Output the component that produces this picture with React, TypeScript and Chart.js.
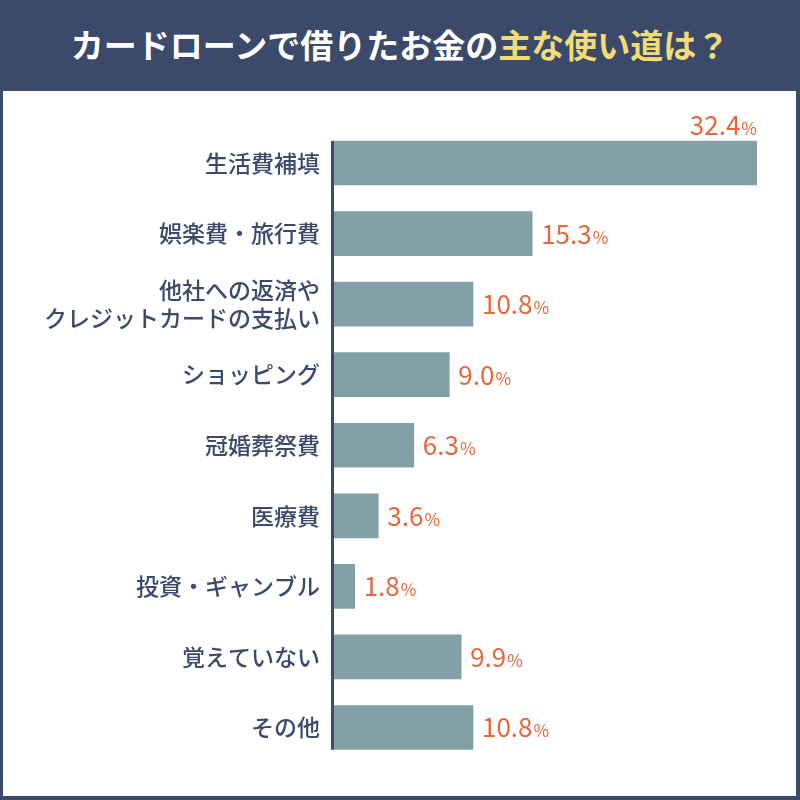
import React, { useEffect, useRef } from "react";
import { Chart, registerables } from "chart.js";

Chart.register(...registerables);

const categories: (string | string[])[] = [
  "生活費補填",
  "娯楽費・旅行費",
  ["他社への返済や", "クレジットカードの支払い"],
  "ショッピング",
  "冠婚葬祭費",
  "医療費",
  "投資・ギャンブル",
  "覚えていない",
  "その他",
];
const values: number[] = [32.4, 15.3, 10.8, 9.0, 6.3, 3.6, 1.8, 9.9, 10.8];

const NAVY = "#3b4a6b";
const BAR = "#83a0a8";
const ORANGE = "#e2693e";
const YELLOW = "#f2dc78";
const FONT = "'Noto Sans CJK JP', 'Noto Sans', sans-serif";

const valueLabels = {
  id: "valueLabels",
  afterDatasetsDraw(chart: any) {
    const ctx = chart.ctx;
    const meta = chart.getDatasetMeta(0);
    ctx.save();
    ctx.fillStyle = ORANGE;
    ctx.textBaseline = "alphabetic";
    meta.data.forEach((bar: any, i: number) => {
      const num = values[i].toFixed(1);
      ctx.font = `400 26px ${FONT}`;
      const wNum = ctx.measureText(num).width;
      ctx.font = `400 17px ${FONT}`;
      const wPct = ctx.measureText("%").width;
      let x: number;
      let y: number;
      if (i === 0) {
        x = bar.x - (wNum + wPct + 1);
        y = bar.y - bar.height / 2 - 6;
      } else {
        x = bar.x + 9;
        y = bar.y + 10;
      }
      ctx.textAlign = "left";
      ctx.font = `400 26px ${FONT}`;
      ctx.fillText(num, x, y);
      ctx.font = `400 17px ${FONT}`;
      ctx.fillText("%", x + wNum + 1, y);
    });
    // axis line
    const first = meta.data[0];
    const last = meta.data[meta.data.length - 1];
    const top = first.y - first.height / 2;
    const bottom = last.y + last.height / 2;
    ctx.fillStyle = NAVY;
    ctx.fillRect(chart.chartArea.left, top, 3, bottom - top);
    ctx.restore();
  },
};

export default function App() {
  const ref = useRef<HTMLCanvasElement | null>(null);
  useEffect(() => {
    if (!ref.current) return;
    const chart = new Chart(ref.current, {
      type: "bar",
      data: {
        labels: categories as any,
        datasets: [
          {
            data: values,
            backgroundColor: BAR,
            borderWidth: 0,
            barThickness: 44,
          },
        ],
      },
      options: {
        indexAxis: "y",
        responsive: false,
        animation: false,
        layout: { padding: { left: 0, right: 43, top: 127.75, bottom: 37.25 } },
        plugins: {
          legend: { display: false },
          tooltip: { enabled: false },
        },
        scales: {
          x: {
            display: false,
            min: 0,
            max: 32.4,
          },
          y: {
            offset: true,
            afterFit(scale: any) {
              scale.width = 331;
            },
            grid: { display: false, drawTicks: false },
            border: { display: false },
            ticks: {
              color: NAVY,
              padding: 11,
              font: { family: FONT, size: 23, weight: 500, lineHeight: 1.2 },
            },
          },
        },
      },
      plugins: [valueLabels],
    });
    return () => chart.destroy();
  }, []);

  return (
    <div
      style={{
        position: "absolute",
        left: 0,
        top: 0,
        width: 800,
        height: 800,
        background: NAVY,
        overflow: "hidden",
      }}
    >
      <div
        style={{
          position: "absolute",
          left: 0,
          top: 0,
          width: 800,
          height: 91,
          display: "flex",
          alignItems: "center",
          justifyContent: "center",
          fontFamily: FONT,
          fontWeight: 700,
          fontSize: 33,
          color: "#ffffff",
          letterSpacing: 0,
          paddingBottom: 4,
          boxSizing: "border-box",
        }}
      >
        <span>カードローンで借りたお金の</span>
        <span style={{ color: YELLOW }}>主な使い道は？</span>
      </div>
      <div
        style={{
          position: "absolute",
          left: 3,
          top: 91,
          width: 793,
          height: 705,
          background: "#ffffff",
        }}
      />
      <canvas
        ref={ref}
        width={800}
        height={800}
        style={{ position: "absolute", left: 0, top: 0, width: 800, height: 800 }}
      />
    </div>
  );
}
